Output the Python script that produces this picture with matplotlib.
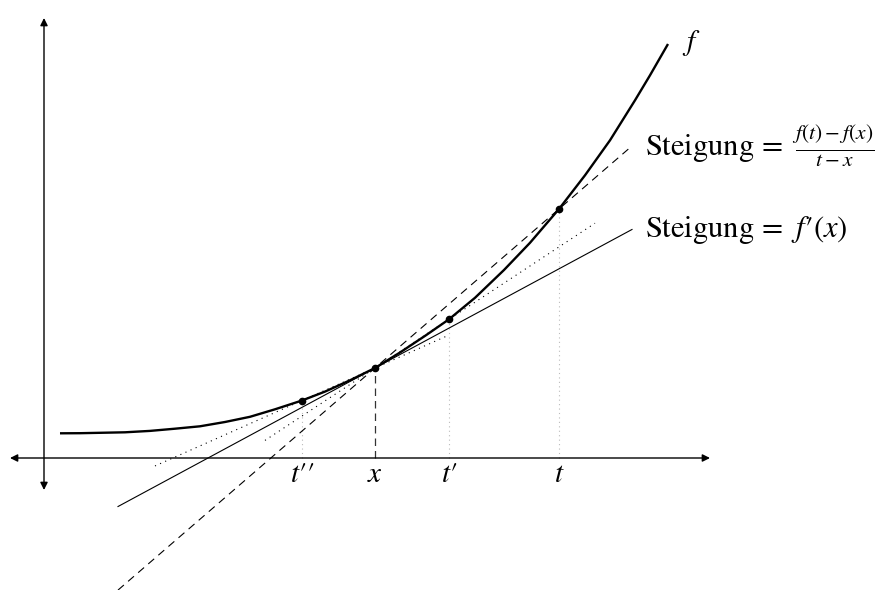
import matplotlib
matplotlib.use('Agg')
import matplotlib.pyplot as plt
import numpy as np

plt.rcParams['mathtext.fontset'] = 'stix'
plt.rcParams['font.family'] = ['STIXGeneral', 'DejaVu Serif']

# curve f (origin at axis crossing, 1 unit = 100 px)
curve_u = [0.16, 0.36, 0.56, 0.81, 1.06, 1.31, 1.56, 1.81, 2.06, 2.31,
           2.58, 2.81, 3.06, 3.31, 3.56, 3.81, 4.05, 4.31, 4.60, 4.86,
           5.15, 5.41, 5.66, 5.91, 6.06, 6.24]
curve_v = [0.247, 0.248, 0.252, 0.257, 0.271, 0.293, 0.317, 0.360, 0.412, 0.487,
           0.575, 0.664, 0.777, 0.900, 1.055, 1.221, 1.387, 1.602, 1.880, 2.152,
           2.490, 2.827, 3.177, 3.577, 3.827, 4.140]

# marked points t'', x, t', t
point_labels = ["$t′′$", "$x$", "$t′$", "$t$"]
point_u = [2.58, 3.31, 4.05, 5.15]
point_v = [0.575, 0.90, 1.387, 2.49]
tangent_slope = 0.539

label_secant = r"Steigung = $\;\frac{f(t)-f(x)}{t-x}$"
label_tangent = r"Steigung = $\;f′(x)$"
label_f = r"$f$"

fig = plt.figure(figsize=(8.75, 5.9), dpi=100)
ax = fig.add_axes([0, 0, 1, 1])
ax.set_xlim(-0.44, 8.31)
ax.set_ylim(-1.32, 4.58)
ax.axis('off')

# coordinate axes with arrows at both ends
arrow_kw = dict(arrowstyle='<|-|>', color='black', lw=1.0, mutation_scale=11,
                shrinkA=0, shrinkB=0)
ax.annotate('', xy=(6.66, 0), xytext=(-0.34, 0), arrowprops=arrow_kw)
ax.annotate('', xy=(0, 4.40), xytext=(0, -0.32), arrowprops=arrow_kw)

x0, y0 = point_u[1], point_v[1]

# vertical helper lines from the axis to the points
for i, (pu, pv) in enumerate(zip(point_u, point_v)):
    if i == 1:
        ax.plot([pu, pu], [0, pv], color='#333333', lw=0.9,
                linestyle=(0, (6, 4)))
    else:
        ax.plot([pu, pu], [0, pv], color='#bbbbbb', lw=0.8,
                linestyle=(0, (1, 3)))

# tangent (solid thin)
us = np.array([0.74, 5.88])
ax.plot(us, y0 + tangent_slope * (us - x0), color='black', lw=0.8)

# secant through x and t (dashed)
s_t = (point_v[3] - y0) / (point_u[3] - x0)
ax.plot(us, y0 + s_t * (us - x0), color='black', lw=0.8,
        linestyle=(0, (7, 5)))

# secant through x and t' (dotted)
us1 = np.array([2.21, 5.51])
s_t1 = (point_v[2] - y0) / (point_u[2] - x0)
ax.plot(us1, y0 + s_t1 * (us1 - x0), color='black', lw=0.8,
        linestyle=(0, (1, 4)))

# secant through t'' and x (dotted)
us2 = np.array([1.11, 4.03])
s_t2 = (point_v[0] - y0) / (point_u[0] - x0)
ax.plot(us2, y0 + s_t2 * (us2 - x0), color='black', lw=0.8,
        linestyle=(0, (1, 4)))

# the curve f
ax.plot(curve_u, curve_v, color='black', lw=1.7, solid_capstyle='butt',
        solid_joinstyle='round')

# points
ax.plot(point_u, point_v, 'o', color='black', markersize=4.5)

# labels
for pu, lab in zip(point_u, point_labels):
    ax.text(pu, -0.24, lab, ha='center', va='baseline', fontsize=21)

ax.text(6.47, 4.08, label_f, ha='center', va='baseline', fontsize=21)
ax.text(6.01, 3.01, label_secant, ha='left', va='baseline', fontsize=22)
ax.text(6.01, 2.21, label_tangent, ha='left', va='baseline', fontsize=22)

fig.savefig('out.png', dpi=100)
